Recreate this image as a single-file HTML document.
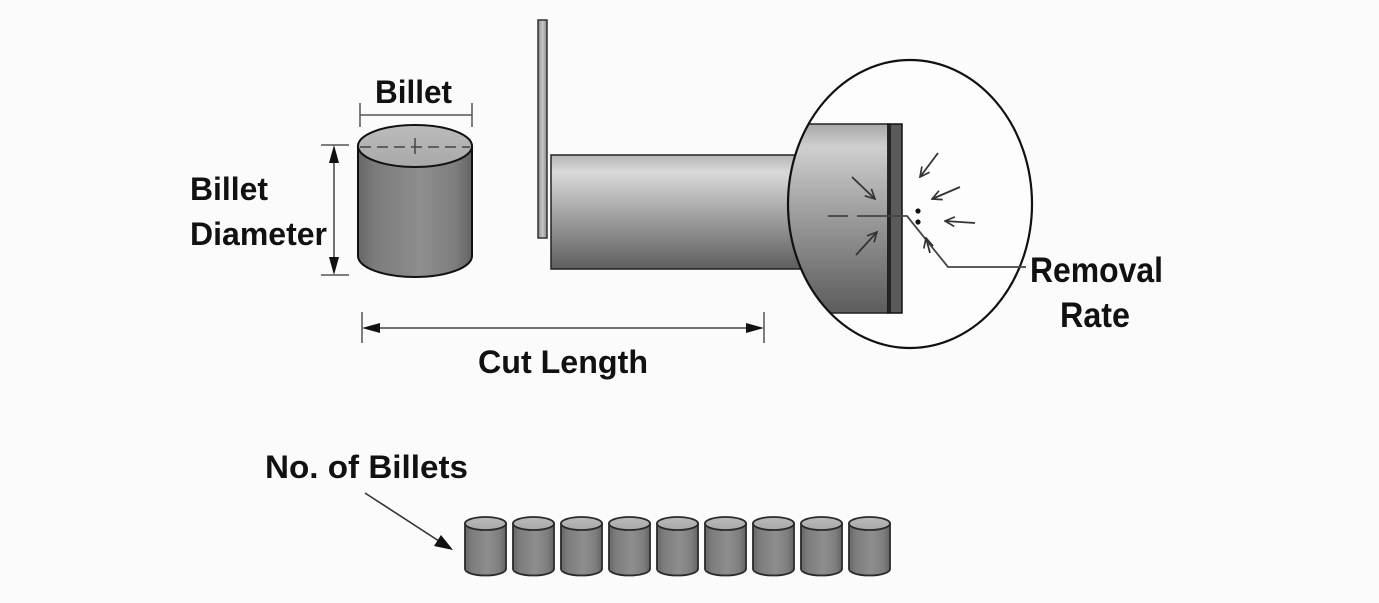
<!DOCTYPE html>
<html><head><meta charset="utf-8"><style>
html,body{margin:0;padding:0;background:#fbfbfb;}
svg{display:block;}
text{font-family:"Liberation Sans",Arial,sans-serif;font-weight:bold;fill:#111;font-size:32px;}
</style></head><body>
<svg width="1379" height="603" viewBox="0 0 1379 603" xmlns="http://www.w3.org/2000/svg">
<defs>
  <linearGradient id="cylH" x1="0" y1="0" x2="1" y2="0">
    <stop offset="0" stop-color="#666"/>
    <stop offset="0.15" stop-color="#7c7c7c"/>
    <stop offset="0.55" stop-color="#8e8e8e"/>
    <stop offset="0.85" stop-color="#7e7e7e"/>
    <stop offset="1" stop-color="#636363"/>
  </linearGradient>
  <linearGradient id="topE" x1="0" y1="0" x2="0" y2="1">
    <stop offset="0" stop-color="#bcbcbc"/>
    <stop offset="1" stop-color="#a8a8a8"/>
  </linearGradient>
  <linearGradient id="barV" x1="0" y1="0" x2="0" y2="1">
    <stop offset="0" stop-color="#b5b5b5"/>
    <stop offset="0.15" stop-color="#dadada"/>
    <stop offset="0.5" stop-color="#a6a6a6"/>
    <stop offset="1" stop-color="#5e5e5e"/>
  </linearGradient>
  <linearGradient id="blkV" x1="0" y1="0" x2="0" y2="1">
    <stop offset="0" stop-color="#a8a8a8"/>
    <stop offset="0.12" stop-color="#cfcfcf"/>
    <stop offset="0.5" stop-color="#9a9a9a"/>
    <stop offset="1" stop-color="#5c5c5c"/>
  </linearGradient>
  <linearGradient id="plate" x1="0" y1="0" x2="1" y2="0">
    <stop offset="0" stop-color="#888"/>
    <stop offset="0.5" stop-color="#c8c8c8"/>
    <stop offset="1" stop-color="#888"/>
  </linearGradient>
  <clipPath id="ell"><ellipse cx="910" cy="204" rx="122" ry="144"/></clipPath>
  <marker id="openHead" viewBox="0 0 10 10" refX="9" refY="5" markerWidth="12" markerHeight="12" markerUnits="userSpaceOnUse" orient="auto">
    <path d="M1,1 L9,5 L1,9" fill="none" stroke="#333" stroke-width="1.4"/>
  </marker>
</defs>

<!-- Big billet -->
<path d="M358,146 L358,256 A57,21 0 0 0 472,256 L472,146 Z" fill="url(#cylH)" stroke="#111" stroke-width="2"/>
<ellipse cx="415" cy="146" rx="57" ry="21" fill="url(#topE)" stroke="#111" stroke-width="2"/>
<line x1="360" y1="147" x2="470" y2="147" stroke="#444" stroke-width="1.6" stroke-dasharray="11,6"/>
<line x1="415" y1="138" x2="415" y2="154" stroke="#444" stroke-width="1.5"/>

<!-- Billet width dimension -->
<line x1="360" y1="115" x2="472" y2="115" stroke="#555" stroke-width="1.5"/>
<line x1="360" y1="103" x2="360" y2="127" stroke="#555" stroke-width="1.5"/>
<line x1="472" y1="103" x2="472" y2="127" stroke="#555" stroke-width="1.5"/>
<text x="375" y="103" textLength="77" lengthAdjust="spacingAndGlyphs">Billet</text>

<!-- Diameter dimension -->
<line x1="321" y1="145" x2="349" y2="145" stroke="#555" stroke-width="1.5"/>
<line x1="321" y1="275" x2="349" y2="275" stroke="#555" stroke-width="1.5"/>
<line x1="334" y1="150" x2="334" y2="270" stroke="#444" stroke-width="1.5"/>
<path d="M334,145 L329,163 L339,163 Z" fill="#111"/>
<path d="M334,275 L329,257 L339,257 Z" fill="#111"/>
<text x="190" y="200" textLength="78" lengthAdjust="spacingAndGlyphs">Billet</text>
<text x="190" y="245" textLength="137" lengthAdjust="spacingAndGlyphs">Diameter</text>

<!-- Bar and plate -->
<rect x="551" y="155" width="262" height="114" fill="url(#barV)" stroke="#222" stroke-width="1.5"/>
<rect x="538" y="20" width="9" height="218" fill="url(#plate)" stroke="#333" stroke-width="1.5"/>

<!-- Magnifier ellipse -->
<ellipse cx="910" cy="204" rx="122" ry="144" fill="#fdfdfd"/>
<g clip-path="url(#ell)">
  <rect x="770" y="124" width="118" height="189" fill="url(#blkV)" stroke="#222" stroke-width="1.5"/>
</g>
<rect x="888" y="124" width="14" height="189" fill="#5a5a5a" stroke="#111" stroke-width="1.5"/>
<line x1="890" y1="124" x2="890" y2="313" stroke="#111" stroke-width="1.5"/>
<ellipse cx="910" cy="204" rx="122" ry="144" fill="none" stroke="#111" stroke-width="2.2"/>

<!-- center dashed line and leader -->
<line x1="828" y1="216" x2="848" y2="216" stroke="#444" stroke-width="1.8"/>
<path d="M857,216 L907,216 L948,267 L1026,267" fill="none" stroke="#444" stroke-width="1.8"/>

<!-- small arrows -->
<g stroke="#333" stroke-width="1.8" fill="none">
  <line x1="852" y1="177" x2="875" y2="199" marker-end="url(#openHead)"/>
  <line x1="856" y1="255" x2="877" y2="232" marker-end="url(#openHead)"/>
  <line x1="938" y1="153" x2="920" y2="177" marker-end="url(#openHead)"/>
  <line x1="960" y1="187" x2="932" y2="199" marker-end="url(#openHead)"/>
  <line x1="975" y1="223" x2="945" y2="221" marker-end="url(#openHead)"/>
  <line x1="930" y1="253" x2="926" y2="238" marker-end="url(#openHead)"/>
</g>
<circle cx="918" cy="211" r="2.6" fill="#111"/>
<circle cx="918" cy="222" r="2.6" fill="#111"/>

<text x="1030" y="282" textLength="133" lengthAdjust="spacingAndGlyphs" style="font-size:35px">Removal</text>
<text x="1060" y="327" textLength="70" lengthAdjust="spacingAndGlyphs" style="font-size:35px">Rate</text>

<!-- Cut length -->
<line x1="362" y1="312" x2="362" y2="343" stroke="#555" stroke-width="1.5"/>
<line x1="764" y1="312" x2="764" y2="343" stroke="#555" stroke-width="1.5"/>
<line x1="370" y1="328" x2="756" y2="328" stroke="#444" stroke-width="1.6"/>
<path d="M362,328 L380,323 L380,333 Z" fill="#111"/>
<path d="M764,328 L746,323 L746,333 Z" fill="#111"/>
<text x="478" y="373" textLength="170" lengthAdjust="spacingAndGlyphs">Cut Length</text>

<!-- No. of Billets -->
<text x="265" y="478" textLength="203" lengthAdjust="spacingAndGlyphs">No. of Billets</text>
<line x1="365" y1="493" x2="442" y2="543" stroke="#333" stroke-width="1.6"/>
<path d="M453,550 L434,546 L441,535 Z" fill="#111"/>

<!-- small billets -->
<g stroke="#2a2a2a" stroke-width="1.8">
  <g id="sb">
    <path d="M465,523.5 L465,569 A20.5,6.5 0 0 0 506,569 L506,523.5 Z" fill="url(#cylH)"/>
    <ellipse cx="485.5" cy="523.5" rx="20.5" ry="6.5" fill="url(#topE)"/>
  </g>
  <use href="#sb" x="48"/>
  <use href="#sb" x="96"/>
  <use href="#sb" x="144"/>
  <use href="#sb" x="192"/>
  <use href="#sb" x="240"/>
  <use href="#sb" x="288"/>
  <use href="#sb" x="336"/>
  <use href="#sb" x="384"/>
</g>
</svg>
</body></html>
